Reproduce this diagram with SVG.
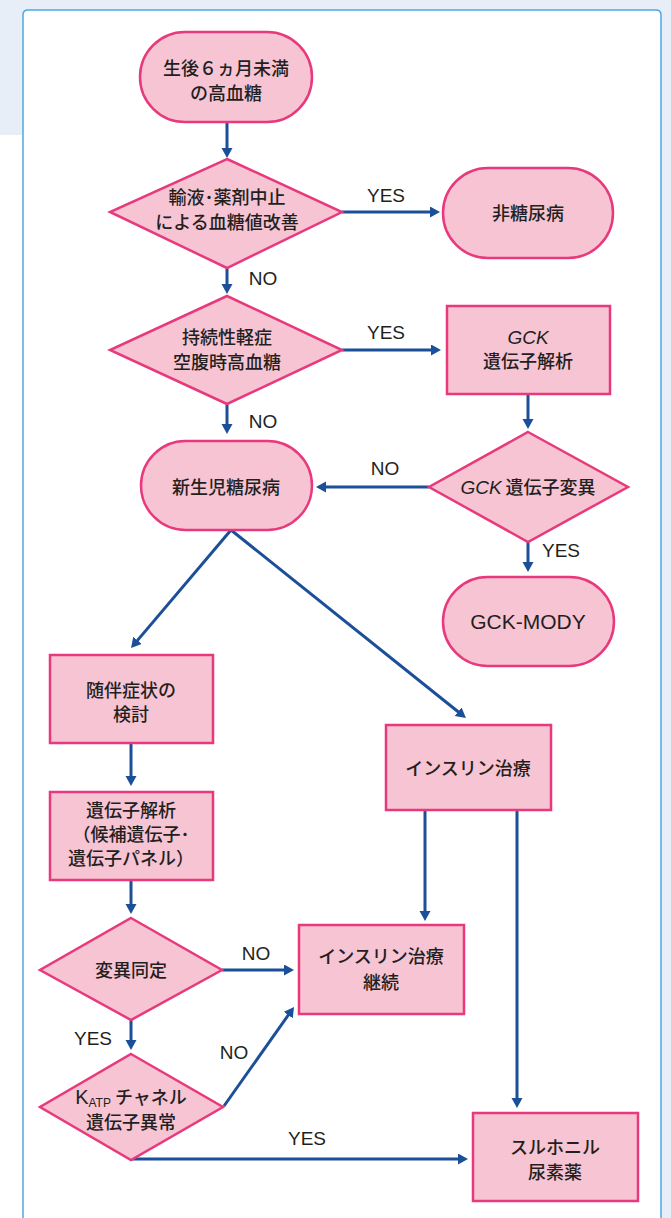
<svg xmlns="http://www.w3.org/2000/svg" width="671" height="1218" viewBox="0 0 671 1218">
<defs>
<style>
.node{fill:#f7c4d4;stroke:#e8397d;stroke-width:2.5}
.conn{stroke:#1b4f98;stroke-width:3;fill:none}
.t{font-family:"Noto Sans CJK JP","Noto Sans",sans-serif;font-size:18px;font-weight:500;fill:#231f20;text-anchor:middle}
.lab{font-family:"Liberation Sans",Arial,sans-serif;font-size:19px;fill:#231f20;text-anchor:middle}
.it{font-family:"Liberation Sans",Arial,sans-serif;font-style:italic;font-weight:400;font-size:19px}
</style>
<marker id="ah" markerUnits="userSpaceOnUse" markerWidth="12" markerHeight="12" refX="2" refY="5.5" orient="auto">
<path d="M0,0 L10,5.5 L0,11 z" fill="#1b4f98"/>
</marker>
</defs>
<rect x="0" y="0" width="671" height="1218" fill="#e7eef7"/>
<rect x="0" y="135" width="24" height="1083" fill="#ffffff"/>
<path d="M23,1219 L23,15 Q23,10 28,10 L656,10 Q661,10 661,15 L661,1219" fill="#ffffff" stroke="#4ea9e0" stroke-width="1.5"/>

<g id="connectors">
<line class="conn" x1="227" y1="122" x2="227" y2="150" marker-end="url(#ah)"/>
<line class="conn" x1="342" y1="212" x2="432" y2="212" marker-end="url(#ah)"/>
<line class="conn" x1="227" y1="268" x2="227" y2="286" marker-end="url(#ah)"/>
<line class="conn" x1="342" y1="350" x2="433" y2="350" marker-end="url(#ah)"/>
<line class="conn" x1="528" y1="394" x2="528" y2="421" marker-end="url(#ah)"/>
<line class="conn" x1="227" y1="404" x2="227" y2="426" marker-end="url(#ah)"/>
<line class="conn" x1="429" y1="487" x2="324" y2="487" marker-end="url(#ah)"/>
<line class="conn" x1="528" y1="542" x2="528" y2="564" marker-end="url(#ah)"/>
<line class="conn" x1="231" y1="530" x2="136.2" y2="641.9" marker-end="url(#ah)"/>
<line class="conn" x1="231" y1="530" x2="459.7" y2="713" marker-end="url(#ah)"/>
<line class="conn" x1="131" y1="743" x2="131" y2="778" marker-end="url(#ah)"/>
<line class="conn" x1="131" y1="880" x2="131" y2="906" marker-end="url(#ah)"/>
<line class="conn" x1="222" y1="970" x2="286" y2="970" marker-end="url(#ah)"/>
<line class="conn" x1="131" y1="1020" x2="131" y2="1042" marker-end="url(#ah)"/>
<line class="conn" x1="224" y1="1106" x2="289.4" y2="1013.5" marker-end="url(#ah)"/>
<line class="conn" x1="131" y1="1159" x2="460" y2="1159" marker-end="url(#ah)"/>
<line class="conn" x1="425" y1="810" x2="425" y2="913" marker-end="url(#ah)"/>
<line class="conn" x1="517" y1="810" x2="517" y2="1100" marker-end="url(#ah)"/>
<text class="lab" x="386" y="202">YES</text>
<text class="lab" x="263" y="285">NO</text>
<text class="lab" x="386" y="339">YES</text>
<text class="lab" x="263" y="428">NO</text>
<text class="lab" x="385" y="475">NO</text>
<text class="lab" x="561" y="557">YES</text>
<text class="lab" x="256" y="960">NO</text>
<text class="lab" x="93" y="1045">YES</text>
<text class="lab" x="234" y="1059">NO</text>
<text class="lab" x="307" y="1145">YES</text>
</g>

<g id="n1">
<rect class="node" x="140" y="32" width="172" height="90" rx="45"/>
<text class="t" x="226" y="75">生後６ヵ月未満</text>
<text class="t" x="226" y="100">の高血糖</text>
</g>
<g id="d1">
<polygon class="node" points="227,159 342,212 227,268 110,212"/>
<text class="t" x="227" y="204">輸液･薬剤中止</text>
<text class="t" x="227" y="229">による血糖値改善</text>
</g>
<g id="n2">
<rect class="node" x="443" y="168" width="170" height="90" rx="45"/>
<text class="t" x="528" y="220">非糖尿病</text>
</g>
<g id="d2">
<polygon class="node" points="227,296 342,350 227,404 110,350"/>
<text class="t" x="227" y="344">持続性軽症</text>
<text class="t" x="227" y="369">空腹時高血糖</text>
</g>
<g id="r1">
<rect class="node" x="447" y="306" width="163" height="88"/>
<text class="t it" x="528" y="344">GCK</text>
<text class="t" x="528" y="368">遺伝子解析</text>
</g>
<g id="n3">
<rect class="node" x="141" y="441" width="171" height="89" rx="44.5"/>
<text class="t" x="226" y="494">新生児糖尿病</text>
</g>
<g id="d3">
<polygon class="node" points="528,432 628,487 528,542 429,487"/>
<text class="t" x="528" y="494"><tspan class="it">GCK</tspan> 遺伝子変異</text>
</g>
<g id="n4">
<rect class="node" x="443" y="577" width="171" height="89" rx="44.5"/>
<text class="lab" x="528" y="629" style="font-size:21px">GCK-MODY</text>
</g>
<g id="r2">
<rect class="node" x="50" y="655" width="163" height="88"/>
<text class="t" x="131" y="697">随伴症状の</text>
<text class="t" x="131" y="721">検討</text>
</g>
<g id="r3">
<rect class="node" x="50" y="792" width="163" height="88"/>
<text class="t" x="131" y="817">遺伝子解析</text>
<text class="t" x="131" y="841">（候補遺伝子･</text>
<text class="t" x="131" y="865">遺伝子パネル）</text>
</g>
<g id="d4">
<polygon class="node" points="131,918 222,970 131,1020 40,970"/>
<text class="t" x="131" y="977">変異同定</text>
</g>
<g id="d5">
<polygon class="node" points="131,1054 223,1107 131,1160 40,1107"/>
<text class="t" x="131" y="1104"><tspan class="lab" style="font-size:20px">K</tspan><tspan class="lab" style="font-size:12px" dy="3">ATP</tspan><tspan dy="-3"> チャネル</tspan></text>
<text class="t" x="131" y="1129">遺伝子異常</text>
</g>
<g id="r4">
<rect class="node" x="386" y="725" width="165" height="85"/>
<text class="t" x="468" y="775">インスリン治療</text>
</g>
<g id="r5">
<rect class="node" x="299" y="925" width="165" height="89"/>
<text class="t" x="381" y="963">インスリン治療</text>
<text class="t" x="381" y="989">継続</text>
</g>
<g id="r6">
<rect class="node" x="473" y="1113" width="165" height="88"/>
<text class="t" x="555" y="1154">スルホニル</text>
<text class="t" x="555" y="1179">尿素薬</text>
</g>
</svg>
